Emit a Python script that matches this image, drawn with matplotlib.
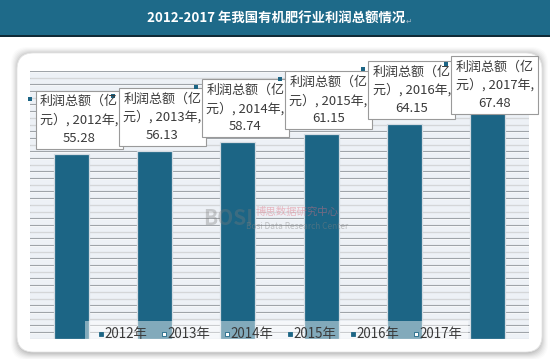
import matplotlib
matplotlib.use("Agg")
import matplotlib.pyplot as plt
from matplotlib.patches import Rectangle, FancyBboxPatch
import numpy as np

plt.rcParams['font.family'] = ['Noto Sans CJK SC', 'DejaVu Sans']

# ---- data ----
years = ["2012年", "2013年", "2014年", "2015年", "2016年", "2017年"]
profits = [55.28, 56.13, 58.74, 61.15, 64.15, 67.48]
series_name = "利润总额（亿元）"
title = "2012-2017 年我国有机肥行业利润总额情况"
legend_hollow = [False, True, True, False, False, True]

W, H = 550, 359
fig = plt.figure(figsize=(W / 100, H / 100), dpi=100)
fig.patch.set_facecolor('white')

def fx(x):
    return x / W

def fy(y):
    return 1 - y / H

BAR = '#1c6585'
TXT = '#3a3a3a'

# banner
fig.patches.append(Rectangle((0, fy(35)), 1, 35 / H, transform=fig.transFigure,
                             facecolor='#1e6a89', edgecolor='none', zorder=-5))
fig.patches.append(Rectangle((0, fy(36.5)), 1, 1.6 / H, transform=fig.transFigure,
                             facecolor='#102a36', edgecolor='none', zorder=-4))
t = fig.text(fx(276), fy(18), title, color='white', fontsize=9.6, fontweight='bold',
             ha='center', va='center')

# panel with shadow
px0, px1, py0, py1 = 17, 542, 53, 352
for k, a in zip(range(8, 0, -1), np.linspace(0.015, 0.055, 8)):
    fig.patches.append(FancyBboxPatch((fx(px0 - k + 2), fy(py1 + k)), (px1 - px0 + 2 * k - 4) / W,
                                      (py1 - py0 + 2 * k - 2) / H,
                                      boxstyle="round,pad=0,rounding_size=0.03",
                                      transform=fig.transFigure, facecolor='black',
                                      edgecolor='none', alpha=a, zorder=-3,
                                      mutation_aspect=W / H))
fig.patches.append(FancyBboxPatch((fx(px0), fy(py1)), (px1 - px0) / W, (py1 - py0) / H,
                                  boxstyle="round,pad=0,rounding_size=0.03",
                                  transform=fig.transFigure, facecolor='white',
                                  edgecolor='#e6e6e6', lw=0.6, zorder=-2,
                                  mutation_aspect=W / H))

# axes
ax_l, ax_r, ax_t, ax_b = 30, 529, 71, 338.7
ax = fig.add_axes([fx(ax_l), fy(ax_b), (ax_r - ax_l) / W, (ax_b - ax_t) / H])
ax.set_facecolor('#edf1f6')
ax.set_ylim(0, 80)
ax.set_xlim(-0.5, len(years) - 0.5)
for v in np.arange(0, 81, 2):
    ax.axhline(v, color='#9fa4a9', lw=0.8, zorder=1)
    ax.axhline(v - 0.18, color='#ffffff', lw=0.5, zorder=1, alpha=0.8)
x = np.arange(len(years))
ax.bar(x, profits, width=0.42, color=BAR, edgecolor='#d3dbe2', lw=0.9, zorder=3)
for s in ax.spines.values():
    s.set_visible(False)
ax.set_xticks([])
ax.set_yticks([])

# watermark
fig.text(fx(228), fy(218), "BOSI", color='#7a7a7a', alpha=0.35, fontsize=15,
         fontweight='bold', ha='center', va='center')
fig.text(fx(297), fy(212), "博思数据研究中心", color='#e07080', alpha=0.45, fontsize=7.5,
         ha='center', va='center')
fig.text(fx(297), fy(226), "Bosi Data Research Center", color='#808080', alpha=0.45,
         fontsize=6, ha='center', va='center')

fig.canvas.draw()
# paragraph mark after title
bb = t.get_window_extent()
fig.text(fx(bb.x1 + 4), fy(21), "↵", color='#9bb3c2', fontsize=5.5, ha='center',
         va='center', family=['DejaVu Sans'])

# data label boxes
bw, bh = 87, 58
for i, (yr, v) in enumerate(zip(years, profits)):
    dx, dy = ax.transData.transform((i, v))
    cx = dx + 7.5
    bar_top = H - dy
    top = bar_top - 5 - bh
    top = max(top, 56)
    left = cx - bw / 2
    fig.patches.append(Rectangle((fx(left), fy(top + bh)), bw / W, bh / H,
                                 transform=fig.transFigure, facecolor='white',
                                 edgecolor='#9a9a9a', lw=0.8, zorder=5))
    fig.patches.append(Rectangle((fx(left - 7.5), fy(top + 10)), 4 / W, 4 / H,
                                 transform=fig.transFigure, facecolor=BAR,
                                 edgecolor='none', zorder=5))
    lines = ["利润总额（亿", "元）, " + yr + ",", f"{v:.2f}"]
    for j, s in enumerate(lines):
        fig.text(fx(cx), fy(top + 11 + 18.3 * j), s, color=TXT, fontsize=9.4,
                 ha='center', va='center', zorder=6)

# legend
fig.patches.append(Rectangle((fx(85), fy(345)), (468 - 85) / W, 24 / H,
                             transform=fig.transFigure, facecolor='white',
                             edgecolor='none', alpha=0.45, zorder=4))
for i, yr in enumerate(years):
    mx = 99 + 63 * i
    fig.patches.append(Rectangle((fx(mx), fy(336)), 4 / W, 4 / H,
                                 transform=fig.transFigure,
                                 facecolor='white' if legend_hollow[i] else BAR,
                                 edgecolor=BAR, lw=0.6, zorder=5))
    fig.text(fx(mx + 5), fy(334), yr, color=TXT, fontsize=9.6, ha='left',
             va='center', zorder=6)

fig.savefig("out.png", dpi=100)
